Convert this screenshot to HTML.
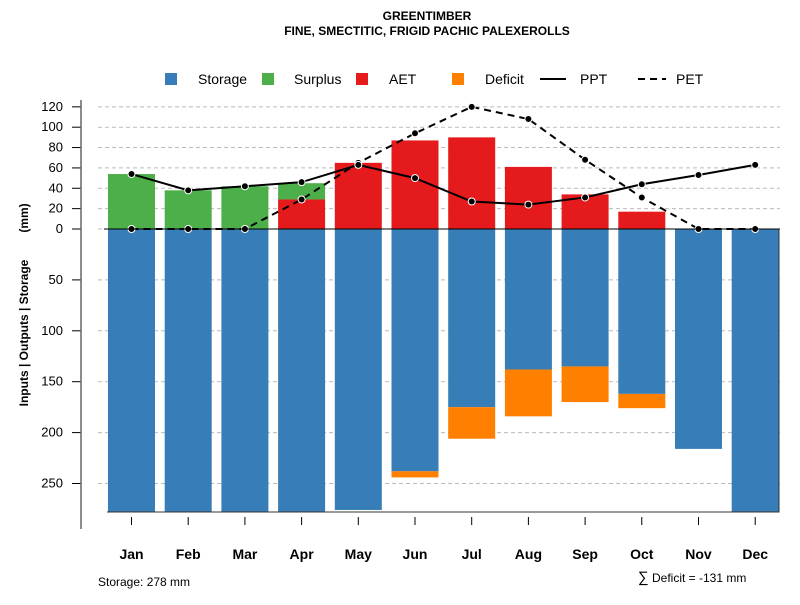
<!DOCTYPE html>
<html><head><meta charset="utf-8"><style>
body{margin:0;background:#fff;font-family:"Liberation Sans",sans-serif}
svg text{font-family:"Liberation Sans",sans-serif}
</style></head><body>
<svg id="c" width="800" height="600" xmlns="http://www.w3.org/2000/svg">
<text x="427" y="20" font-size="12" font-weight="bold" text-anchor="middle">GREENTIMBER</text>
<text x="427" y="35" font-size="12" font-weight="bold" text-anchor="middle">FINE, SMECTITIC, FRIGID PACHIC PALEXEROLLS</text>
<g id="legend">
<rect x="165" y="73" width="12" height="12" fill="#377eb8"/>
<text x="198" y="84" font-size="14">Storage</text>
<rect x="262" y="73" width="12" height="12" fill="#4daf4a"/>
<text x="294" y="84" font-size="14">Surplus</text>
<rect x="356" y="73" width="12" height="12" fill="#e41a1c"/>
<text x="389" y="84" font-size="14">AET</text>
<rect x="452" y="73" width="12" height="12" fill="#ff7f00"/>
<text x="485" y="84" font-size="14">Deficit</text>
<line x1="540" y1="79" x2="566" y2="79" stroke="#000" stroke-width="2"/>
<text x="580" y="84" font-size="14">PPT</text>
<line x1="638" y1="79" x2="666" y2="79" stroke="#000" stroke-width="2" stroke-dasharray="7,5"/>
<text x="676" y="84" font-size="14">PET</text>
</g>
<text transform="translate(28,333) rotate(-90)" font-size="12" font-weight="bold" text-anchor="middle">Inputs | Outputs | Storage</text>
<text transform="translate(28,218) rotate(-90)" font-size="12" font-weight="bold" text-anchor="middle">(mm)</text>
<text x="98" y="586" font-size="12">Storage: 278 mm</text>
<text x="638" y="582" font-size="15">∑</text>
<text x="652" y="582" font-size="12">Deficit = -131 mm</text>
<g id="grid"></g><g id="bars"></g><g id="lines"></g><g id="axes"></g>
</svg>
<script>
const months=["Jan","Feb","Mar","Apr","May","Jun","Jul","Aug","Sep","Oct","Nov","Dec"];
const surplus=[54,38,42,16,0,0,0,0,0,0,0,0];
const aet=[0,0,0,29,65,87,90,61,34,17,0,0];
const storage=[278,278,278,278,276,238,175,138,135,162,216,278];
const deficit=[0,0,0,0,0,6,31,46,35,14,0,0];
const ppt=[54,38,42,46,63,50,27,24,31,44,53,63];
const pet=[0,0,0,29,65,94,120,108,68,31,0,0];
const upTicks=[0,20,40,60,80,100,120];
const downTicks=[50,100,150,200,250];
const NS="http://www.w3.org/2000/svg";
const Y0=229,SC=1.018;
function y(v){return Y0-v*SC;}
function x(i){return 131.5+i*56.7;}
const BW=47;
function mk(p,tag,at){const e=document.createElementNS(NS,tag);for(const k in at)e.setAttribute(k,at[k]);document.getElementById(p).appendChild(e);return e;}
upTicks.concat(downTicks.map(v=>-v)).forEach(v=>{
 const g=mk("grid","line",{x1:98,x2:780,y1:y(v),y2:y(v),stroke:"#bbb","stroke-dasharray":"4,3"});
 
 
 const t=mk("axes","line",{x1:72,x2:81,y1:y(v),y2:y(v),stroke:"#000"});
 
 
 const l=mk("axes","text",{x:63,y:y(v)+4,"font-size":13,"text-anchor":"end"});
 l.textContent=Math.abs(v);
 
 
});
months.forEach((m,i)=>{
 const cx=x(i),lx=cx-BW/2;
 const s=mk("bars","rect",{x:lx,y:y(0),width:BW,height:storage[i]*SC,fill:"#377eb8"});
 
 
 if(deficit[i]>0){const d=mk("bars","rect",{x:lx,y:y(-storage[i]),width:BW,height:deficit[i]*SC,fill:"#ff7f00"});
 
 }
 if(aet[i]>0){const a=mk("bars","rect",{x:lx,y:y(aet[i]),width:BW,height:aet[i]*SC,fill:"#e41a1c"});
 
 }
 if(surplus[i]>0){const u=mk("bars","rect",{x:lx,y:y(aet[i]+surplus[i]),width:BW,height:surplus[i]*SC,fill:"#4daf4a"});
 
 }
 const t=mk("axes","line",{x1:cx,x2:cx,y1:517,y2:525,stroke:"#000"});
 
 
 const l=mk("axes","text",{x:cx,y:559,"font-size":14,"font-weight":"bold","text-anchor":"middle"});
 l.textContent=m;
 
 
});
const zl=mk("axes","line",{x1:104,x2:780,y1:Y0,y2:Y0,stroke:"#000"});


const bx=mk("axes","polyline",{points:`107,${y(-278)} 779,${y(-278)} 779,${Y0}`,fill:"none",stroke:"#333"});


const ax=mk("axes","line",{x1:81,x2:81,y1:100,y2:529,stroke:"#666","stroke-width":1.5});


[[pet,"pet","7,5"],[ppt,"ppt",""]].forEach(([arr,n,da])=>{
 const p=mk("lines","polyline",{points:arr.map((v,i)=>x(i)+","+y(v)).join(" "),fill:"none",stroke:"#000","stroke-width":2,"stroke-dasharray":da||"none"});
 
 
 arr.forEach((v,i)=>{const c=mk("lines","circle",{cx:x(i),cy:y(v),r:3.5,fill:"#000",stroke:"#fff","stroke-width":1});
 
 });
});
</script>
</body></html>
